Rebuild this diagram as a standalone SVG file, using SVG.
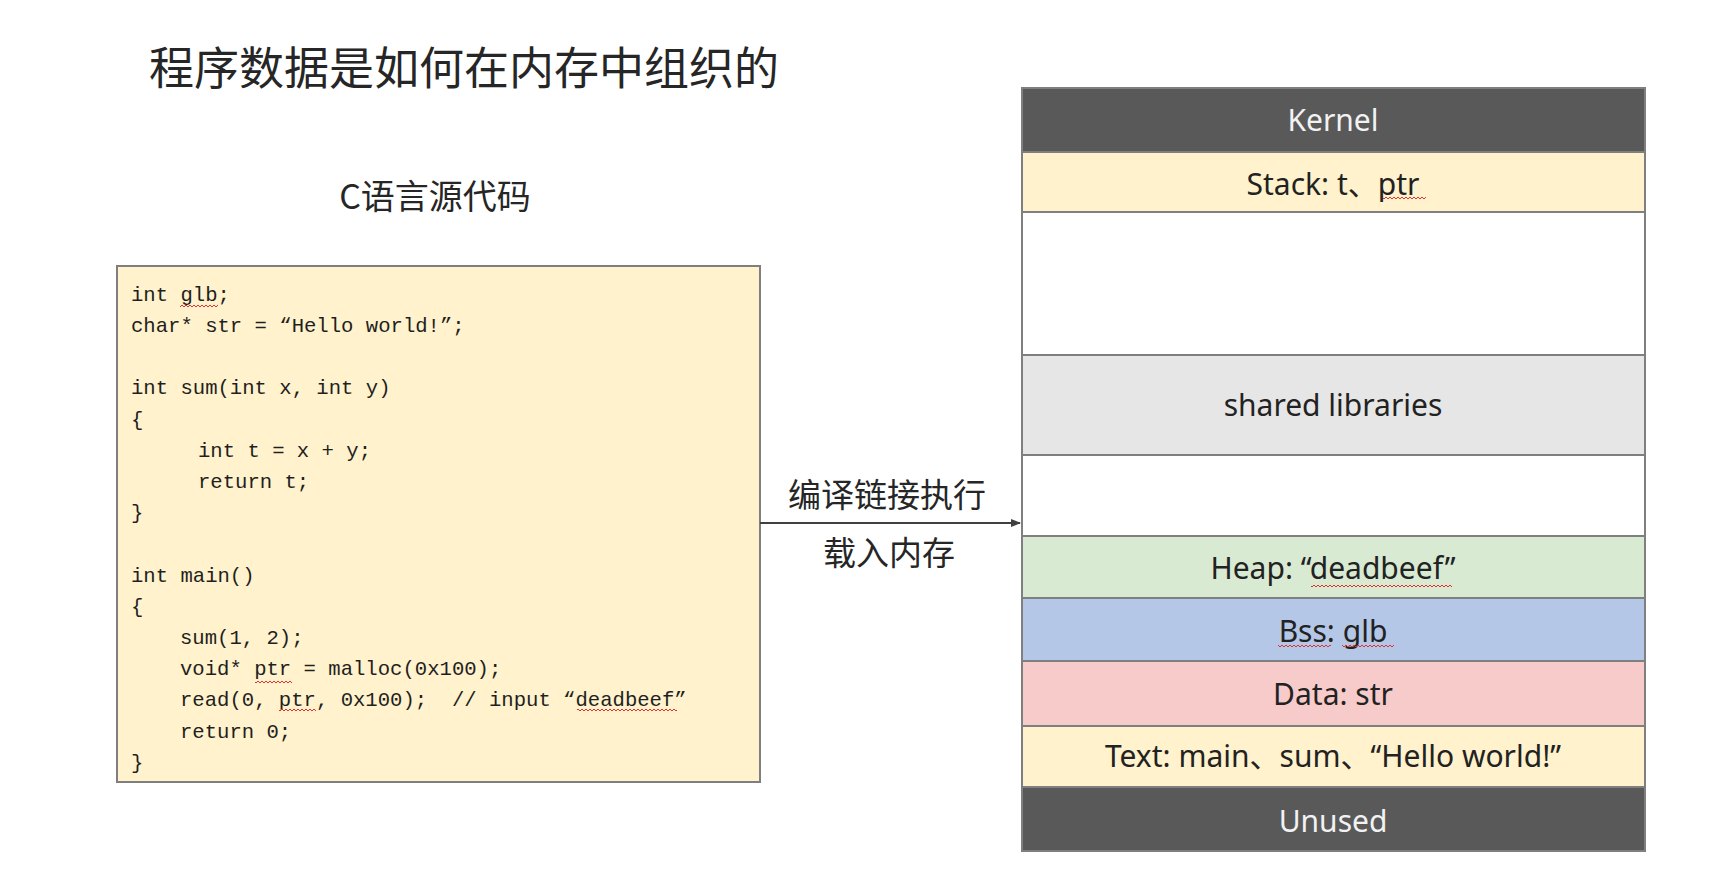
<svg xmlns="http://www.w3.org/2000/svg" width="1736" height="884" viewBox="0 0 1736 884">
<style>
.cjk{font-family:"Noto Sans CJK SC","Noto Sans",sans-serif;fill:#262626}
.code{font-family:"Liberation Mono","DejaVu Sans Mono",monospace;font-size:20.6px;fill:#1f1f1f;white-space:pre}
.seg{stroke:#7f7f7f;stroke-width:2}
.lbl{font-family:"Noto Sans","Noto Sans CJK SC",sans-serif;font-size:30px;fill:#222;text-anchor:middle}
.lblw{font-family:"Noto Sans","Noto Sans CJK SC",sans-serif;font-size:30px;fill:#f2f2f2;text-anchor:middle}
.sq{fill:url(#squig)}
.conn{stroke:#404040;stroke-width:2;fill:none}
.inner{stroke:#595959;stroke-width:1.6;fill:none}
</style>
<defs>
<pattern id="squig" width="4" height="4" patternUnits="userSpaceOnUse">
<path d="M0,3 L2,1 L4,3" stroke="#e03030" stroke-width="1" fill="none"/>
</pattern>
<marker id="ah" viewBox="0 0 10 10" refX="9" refY="5" markerWidth="5" markerHeight="5" orient="auto" markerUnits="strokeWidth">
<path d="M0,1 L10,5 L0,9 z" fill="#404040"/>
</marker>
<marker id="ahs" viewBox="0 0 10 10" refX="9" refY="5" markerWidth="7" markerHeight="7" orient="auto" markerUnits="strokeWidth">
<path d="M0,1.5 L10,5 L0,8.5 z" fill="#595959"/>
</marker>
</defs>
<rect width="1736" height="884" fill="#ffffff"/>

<g id="title">
<text class="cjk" x="464" y="85" font-size="45" text-anchor="middle" fill="#1a1a1a">程序数据是如何在内存中组织的</text>
</g>

<g id="code-caption">
<text class="cjk" x="435" y="209" font-size="34" text-anchor="middle">C语言源代码</text>
</g>

<g id="code-box">
<rect x="117" y="266" width="643" height="516" fill="#fff2cc" stroke="#7f7f7f" stroke-width="2"/>
<text class="code" x="131" y="301">int glb;</text>
<text class="code" x="131" y="332">char* str = “Hello world!”;</text>
<text class="code" x="131" y="394">int sum(int x, int y)</text>
<text class="code" x="131" y="426">{</text>
<text class="code" x="198" y="457">int t = x + y;</text>
<text class="code" x="198" y="488">return t;</text>
<text class="code" x="131" y="519">}</text>
<text class="code" x="131" y="582">int main()</text>
<text class="code" x="131" y="613">{</text>
<text class="code" x="180" y="644">sum(1, 2);</text>
<text class="code" x="180" y="675">void* ptr = malloc(0x100);</text>
<text class="code" x="180" y="706" xml:space="preserve">read(0, ptr, 0x100);  // input “deadbeef”</text>
<text class="code" x="180" y="738">return 0;</text>
<text class="code" x="131" y="769">}</text>
<rect class="sq" x="180" y="304" width="38" height="4"/>
<rect class="sq" x="255" y="680" width="37" height="4"/>
<rect class="sq" x="279" y="708" width="37" height="4"/>
<rect class="sq" x="577" y="708" width="100" height="4"/>
</g>

<g id="connectors">
<line class="conn" x1="760" y1="523" x2="1020" y2="523" marker-end="url(#ah)"/>
<line class="inner" x1="1334" y1="213" x2="1334" y2="297" marker-end="url(#ahs)"/>
<line class="inner" x1="1334" y1="536" x2="1334" y2="459" marker-end="url(#ahs)"/>
</g>

<g id="arrow-labels">
<text class="cjk" x="887" y="507" font-size="33" text-anchor="middle" fill="#333">编译链接执行</text>
<text class="cjk" x="889" y="565" font-size="33" text-anchor="middle" fill="#333">载入内存</text>
</g>

<g id="memory">
<g id="kernel"><rect class="seg" x="1022" y="88" width="623" height="64" fill="#595959"/><text class="lblw" x="1333" y="131">Kernel</text></g>
<g id="stack"><rect class="seg" x="1022" y="152" width="623" height="60" fill="#fff2cc"/><text class="lbl" x="1333" y="195">Stack: t、ptr</text><rect class="sq" x="1383" y="196" width="43" height="4"/></g>
<g id="gap1"><rect class="seg" x="1022" y="212" width="623" height="143" fill="#ffffff"/></g>
<g id="shared"><rect class="seg" x="1022" y="355" width="623" height="100" fill="#e7e6e6"/><text class="lbl" x="1333" y="416">shared libraries</text></g>
<g id="gap2"><rect class="seg" x="1022" y="455" width="623" height="81" fill="#ffffff"/></g>
<g id="heap"><rect class="seg" x="1022" y="536" width="623" height="62" fill="#d9ead3"/><text class="lbl" x="1333" y="579">Heap: “deadbeef”</text><rect class="sq" x="1311" y="584" width="141" height="4"/></g>
<g id="bss"><rect class="seg" x="1022" y="598" width="623" height="63" fill="#b4c7e7"/><text class="lbl" x="1333" y="642">Bss: glb</text><rect class="sq" x="1278" y="644" width="53" height="4"/><rect class="sq" x="1342" y="644" width="52" height="4"/></g>
<g id="data"><rect class="seg" x="1022" y="661" width="623" height="65" fill="#f8cbcb"/><text class="lbl" x="1333" y="705">Data: str</text></g>
<g id="text"><rect class="seg" x="1022" y="726" width="623" height="61" fill="#fff2cc"/><text class="lbl" x="1333" y="767">Text: main、sum、“Hello world!”</text></g>
<g id="unused"><rect class="seg" x="1022" y="787" width="623" height="64" fill="#595959"/><text class="lblw" x="1333" y="832">Unused</text></g>
</g>
</svg>
